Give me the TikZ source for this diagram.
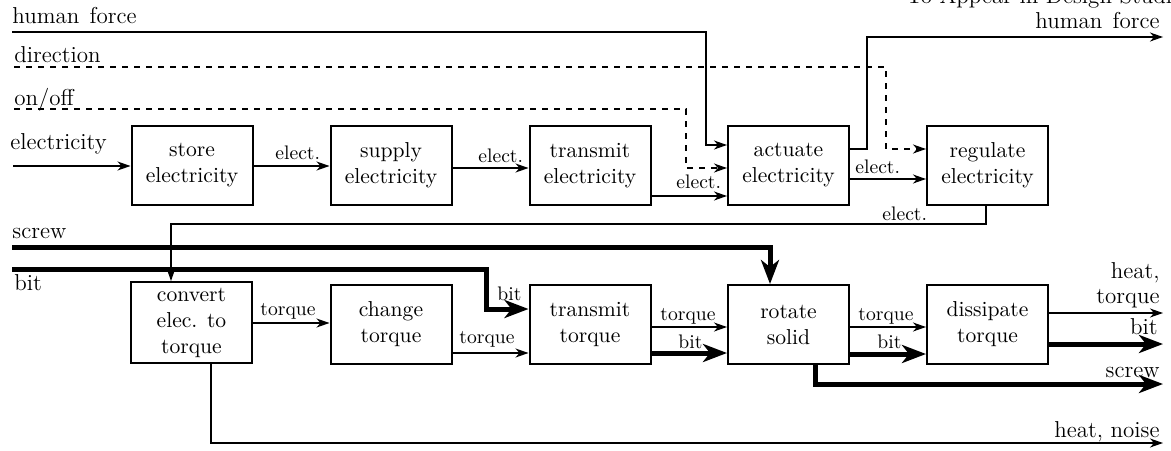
\documentclass[tikz,border=0pt]{standalone}
\usetikzlibrary{arrows.meta,calc}
\newcommand\bxfont{\fontsize{10.8}{13}\selectfont}
\newcommand\lbfont{\fontsize{9.8}{12}\selectfont}
\newcommand\oufont{\fontsize{11.5}{13}\selectfont}
\begin{document}
\begin{tikzpicture}[x=0.5pt,y=-0.5pt,
  fbox/.style={draw, line width=1pt, minimum width=60.5pt, minimum height=39.5pt, inner sep=0pt, align=center, font=\bxfont},
  flow/.style={line width=0.6pt, -{Stealth[length=6.5pt,width=4.5pt,inset=2pt]}},
  sig/.style={flow, dash pattern=on 3pt off 3pt},
  mat/.style={line width=2.5pt, -{Stealth[length=12pt,width=9pt,inset=3.5pt]}},
  lbl/.style={font=\lbfont, inner sep=0pt},
  olbl/.style={font=\oufont, inner sep=0pt}]
\useasboundingbox (0,0) rectangle (1171,450);
\clip (0,0) rectangle (1171,450);

% header (cut off at the top edge, as in the reference)
\node[olbl, anchor=base west] (hdr) at (906,3) {To Appear in Design Studies};

% boxes
\node[fbox] (st) at (192,165.5) {store\\electricity};
\node[fbox] (se) at (391,165.5) {supply\\electricity};
\node[fbox] (te) at (590,165.5) {transmit\\electricity};
\node[fbox] (ae) at (788.5,165.5) {actuate\\electricity};
\node[fbox] (re) at (987.5,165.5) {regulate\\electricity};
\node[fbox, minimum height=40.5pt] (cv) at (191.5,322.5) {convert\\elec. to\\torque};
\node[fbox] (ct) at (391,324.5) {change\\torque};
\node[fbox] (tt) at (590,324.5) {transmit\\torque};
\node[fbox] (rs) at (788.5,324.5) {rotate\\solid};
\node[fbox] (dt) at (987.5,324.5) {dissipate\\torque};

% free ends
\coordinate (hf0) at (12,32);
\coordinate (dir0) at (14,67);
\coordinate (oo0) at (14,109);
\coordinate (el0) at (13,166);
\coordinate (sc0) at (12,247);
\coordinate (bt0) at (12,269);
\coordinate (hfout) at (1163,37);
\coordinate (htout) at (1163,313);
\coordinate (btout) at (1163,344);
\coordinate (scout) at (1163,384);
\coordinate (hnout) at (1163,443);

% outer labels, left
\node[olbl, anchor=base west] (lhf) at (12,23) {human\hspace{0.45em}force};
\node[olbl, anchor=base west] (ldir) at (14,62) {direction};
\node[olbl, anchor=base west] (loo) at (14,105) {on/off};
\node[olbl, anchor=base west] (lel) at (10,149) {electricity};
\node[olbl, anchor=base west] (lsc) at (12,238) {screw};
\node[olbl, anchor=base west] (lbt) at (14,290) {bit};

% outer labels, right
\node[olbl, anchor=base east] (rhf) at (1160,28) {human\hspace{0.45em}force};
\node[olbl, anchor=base east] (rh1) at (1160,278) {heat,};
\node[olbl, anchor=base east] (rh2) at (1160,303) {torque};
\node[olbl, anchor=base east] (rbt) at (1158,334) {bit};
\node[olbl, anchor=base east] (rsc) at (1160,377) {screw};
\node[olbl, anchor=base east] (rhn) at (1160,437) {heat, noise};

% signals and human force
\draw[flow] (hf0) -- (706,32) -- (706,145) -- (ae.west |- 0,145);
\draw[sig] (dir0) -- (886,67) -- (886,149) -- (re.west |- 0,149);
\draw[sig] (oo0) -- (686,109) -- (686,168) -- (ae.west |- 0,168);
\draw[flow] (ae.east |- 0,149) -- (867,149) -- (867,37) -- (hfout);

% electricity chain
\draw[flow] (el0) -- (st.west |- el0);
\draw[flow] (st.east |- 0,166) -- (se.west |- 0,166);
\draw[flow] (se.east |- 0,168) -- (te.west |- 0,168);
\draw[flow] (te.east |- 0,196) -- (ae.west |- 0,196);
\draw[flow] (ae.east |- 0,179) -- (re.west |- 0,179);
\draw[flow] (re.south -| 986,0) -- (986,224) -- (171,224) -- (cv.north -| 171,0);

% elect. labels
\node[lbl, anchor=base west] (l1) at (275,159) {elect.};
\node[lbl, anchor=base west] (l2) at (478,162) {elect.};
\node[lbl, anchor=base west] (l3) at (676,188) {elect.};
\node[lbl, anchor=base west] (l4) at (855,173) {elect.};
\node[lbl, anchor=base west] (l5) at (882,220) {elect.};

% material flows
\draw[mat] (sc0) -- (770,247) -- (rs.north -| 770,0);
\draw[mat] (bt0) -- (486,269) -- (486,309) -- (tt.west |- 0,309);
\draw[mat] (tt.east |- 0,353) -- (rs.west |- 0,353);
\draw[mat] (rs.east |- 0,354) -- (dt.west |- 0,354);
\draw[mat] (dt.east |- btout) -- (btout);
\draw[mat] (rs.south -| 815,0) -- (815,384) -- (scout);

% torque flows
\draw[flow] (cv.east |- 0,323) -- (ct.west |- 0,323);
\draw[flow] (ct.east |- 0,353) -- (tt.west |- 0,353);
\draw[flow] (tt.east |- 0,327) -- (rs.west |- 0,327);
\draw[flow] (rs.east |- 0,327) -- (dt.west |- 0,327);
\draw[flow] (dt.east |- htout) -- (htout);
\draw[flow] (cv.south -| 211,0) -- (211,443) -- (hnout);

% torque / bit labels
\node[lbl, anchor=base west] (t1) at (260,315) {torque};
\node[lbl, anchor=base west] (t2) at (459,343) {torque};
\node[lbl, anchor=base west] (b1) at (497,300) {bit};
\node[lbl, anchor=base west] (t3) at (660,320) {torque};
\node[lbl, anchor=base west] (b2) at (678,348) {bit};
\node[lbl, anchor=base west] (t4) at (858,320) {torque};
\node[lbl, anchor=base west] (b3) at (877,348) {bit};
\end{tikzpicture}
\end{document}
